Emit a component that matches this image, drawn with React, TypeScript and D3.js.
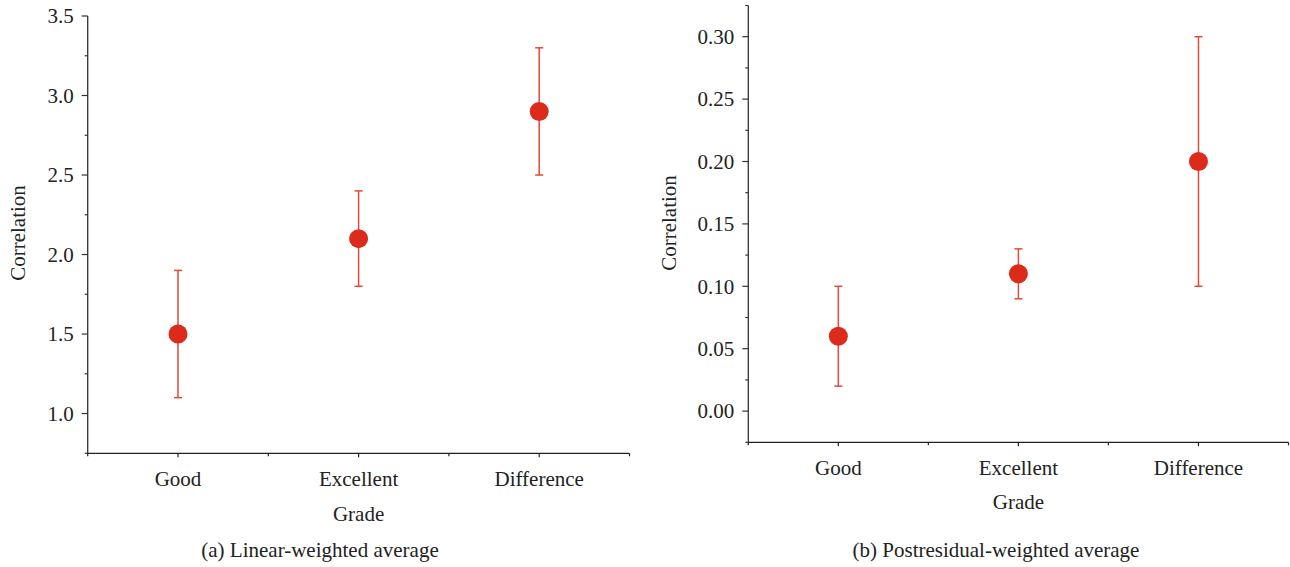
import React from "react";
import * as d3 from "d3";

const categories = ["Good", "Excellent", "Difference"];
const linearMean = [1.5, 2.1, 2.9];
const linearLow = [1.1, 1.8, 2.5];
const linearHigh = [1.9, 2.4, 3.3];
const postMean = [0.06, 0.11, 0.2];
const postLow = [0.02, 0.09, 0.1];
const postHigh = [0.1, 0.13, 0.3];
const linearTicks = [1.0, 1.5, 2.0, 2.5, 3.0, 3.5];
const postTicks = [0, 0.05, 0.1, 0.15, 0.2, 0.25, 0.3];

const FONT = "'Liberation Serif', 'DejaVu Serif', serif";
const RED = "#dc2a1b";
const BAR = "#e2493a";
const FS = 21;

type PanelProps = {
  left: number;
  right: number;
  top: number;
  bottom: number;
  yDomain: [number, number];
  majorTicks: number[];
  minorStep: number;
  fmt: (v: number) => string;
  mean: number[];
  low: number[];
  high: number[];
  catY: number;
  gradeY: number;
  caption: string;
  captionX: number;
  ylabelX: number;
  ylabelY: number;
};

function Panel(p: PanelProps) {
  const x = d3.scaleLinear().domain([0.5, 3.5]).range([p.left, p.right]);
  const y = d3.scaleLinear().domain(p.yDomain).range([p.bottom, p.top]);
  const minor: number[] = [];
  const n = Math.round((p.yDomain[1] - p.yDomain[0]) / p.minorStep);
  for (let i = 0; i <= n; i++) {
    const v = p.yDomain[0] + i * p.minorStep;
    if (!p.majorTicks.some((m) => Math.abs(m - v) < 1e-9)) minor.push(v);
  }
  const xMinor = [0.5, 1.5, 2.5, 3.5];
  const cx = (p.left + p.right) / 2;
  return (
    <g fontFamily={FONT} fill="#222">
      <line x1={p.left} x2={p.left} y1={p.top} y2={p.bottom} stroke="#333" strokeWidth={1.3} />
      <line x1={p.left} x2={p.right} y1={p.bottom} y2={p.bottom} stroke="#222" strokeWidth={1.3} />
      {p.majorTicks.map((t) => (
        <g key={"m" + t}>
          <line x1={p.left - 6} x2={p.left} y1={y(t)} y2={y(t)} stroke="#333" strokeWidth={1.2} />
          <text x={p.left - 14} y={y(t)} dy="0.35em" textAnchor="end" fontSize={FS}>
            {p.fmt(t)}
          </text>
        </g>
      ))}
      {minor.map((t) => (
        <line key={"n" + t} x1={p.left - 3} x2={p.left} y1={y(t)} y2={y(t)} stroke="#333" strokeWidth={1.2} />
      ))}
      {categories.map((c, i) => (
        <g key={c}>
          <line x1={x(i + 1)} x2={x(i + 1)} y1={p.bottom} y2={p.bottom + 4} stroke="#222" strokeWidth={1.2} />
          <text x={x(i + 1)} y={p.catY} textAnchor="middle" fontSize={FS}>
            {c}
          </text>
        </g>
      ))}
      {xMinor.map((t) => (
        <line key={"x" + t} x1={x(t)} x2={x(t)} y1={p.bottom} y2={p.bottom + 3} stroke="#222" strokeWidth={1.2} />
      ))}
      <text x={cx} y={p.gradeY} textAnchor="middle" fontSize={FS}>
        Grade
      </text>
      <text x={p.captionX} y={557} textAnchor="middle" fontSize={FS}>
        {p.caption}
      </text>
      <text
        transform={`translate(${p.ylabelX},${p.ylabelY}) rotate(-90)`}
        textAnchor="middle"
        dy="0.35em"
        fontSize={FS}
      >
        Correlation
      </text>
      {categories.map((c, i) => (
        <g key={"e" + c}>
          <line x1={x(i + 1)} x2={x(i + 1)} y1={y(p.low[i])} y2={y(p.high[i])} stroke={BAR} strokeWidth={1.5} />
          <line x1={x(i + 1) - 4} x2={x(i + 1) + 4} y1={y(p.low[i])} y2={y(p.low[i])} stroke={BAR} strokeWidth={1.5} />
          <line x1={x(i + 1) - 4} x2={x(i + 1) + 4} y1={y(p.high[i])} y2={y(p.high[i])} stroke={BAR} strokeWidth={1.5} />
          <circle cx={x(i + 1)} cy={y(p.mean[i])} r={9.5} fill={RED} />
        </g>
      ))}
    </g>
  );
}

export default function App() {
  return (
    <svg width={1290} height={567} style={{ position: "absolute", left: 0, top: 0, background: "#fff" }}>
      <Panel
        left={87.7}
        right={629.5}
        top={16}
        bottom={453.3}
        yDomain={[0.75, 3.5]}
        majorTicks={linearTicks}
        minorStep={0.25}
        fmt={(v) => d3.format(".1f")(v)}
        mean={linearMean}
        low={linearLow}
        high={linearHigh}
        catY={486}
        gradeY={521}
        caption="(a) Linear-weighted average"
        captionX={320}
        ylabelX={18}
        ylabelY={233}
      />
      <Panel
        left={748.3}
        right={1288.5}
        top={5.5}
        bottom={442.3}
        yDomain={[-0.025, 0.325]}
        majorTicks={postTicks}
        minorStep={0.025}
        fmt={(v) => d3.format(".2f")(v)}
        mean={postMean}
        low={postLow}
        high={postHigh}
        catY={475}
        gradeY={509}
        caption="(b) Postresidual-weighted average"
        captionX={996}
        ylabelX={669}
        ylabelY={223}
      />
    </svg>
  );
}
